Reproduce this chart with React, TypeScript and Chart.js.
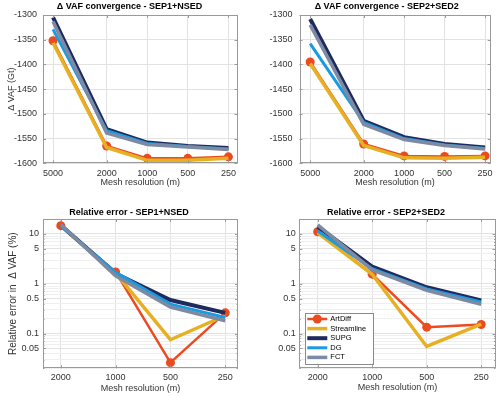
import React, { useEffect, useRef } from 'react';
import { Chart, registerables } from 'chart.js';

Chart.register(...registerables);

const FONT_FAMILY = '"Liberation Sans", Arial, Helvetica, sans-serif';

// ---- categories / ticks ----
const convResolutions = [5000, 2000, 1000, 500, 250];
const errResolutions = [2000, 1000, 500, 250];
const seriesNames = ['ArtDiff', 'Streamline', 'SUPG', 'DG', 'FCT'];
const convYTicks = [-1600, -1550, -1500, -1450, -1400, -1350, -1300];
const errYTicks = [0.05, 0.1, 0.5, 1, 5, 10];
const errDecades = [0.01, 0.1, 1, 10];
const errMinorMultipliers = [1, 2, 3, 4, 5, 6, 7, 8, 9];

// ---- ΔVAF convergence, SEP1+NSED (Gt) ----
const artDiffConv1 = [-1352, -1565, -1590, -1590, -1587];
const streamlineConv1 = [-1356, -1568, -1594, -1594, -1590];
const supgConv1 = [-1305, -1531, -1558, -1565, -1569];
const dgConv1 = [-1329, -1534, -1560, -1566, -1571];
const fctConv1 = [-1313, -1539, -1562, -1567, -1572];

// ---- ΔVAF convergence, SEP2+SED2 (Gt) ----
const artDiffConv2 = [-1395, -1561, -1585, -1586, -1585];
const streamlineConv2 = [-1398, -1564, -1589, -1590, -1588];
const supgConv2 = [-1308, -1514, -1547, -1561, -1568];
const dgConv2 = [-1358, -1517, -1550, -1563, -1570];
const fctConv2 = [-1320, -1521, -1552, -1564, -1571];

// ---- Relative error, SEP1+NSED (%) ----
const artDiffErr1 = [14.7, 1.73, 0.026, 0.26];
const streamlineErr1 = [14.5, 1.65, 0.075, 0.23];
const supgErr1 = [15, 1.6, 0.47, 0.26];
const dgErr1 = [14.5, 1.7, 0.39, 0.21];
const fctErr1 = [15.5, 1.45, 0.34, 0.18];

// ---- Relative error, SEP2+SED2 (%) ----
const artDiffErr2 = [11.1, 1.56, 0.134, 0.152];
const streamlineErr2 = [10.5, 1.55, 0.055, 0.155];
const supgErr2 = [14, 2.2, 0.85, 0.46];
const dgErr2 = [11.5, 2.0, 0.79, 0.43];
const fctErr2 = [15.2, 1.9, 0.74, 0.385];

// ---- styles ----
const COLORS = ['#EC4A1F', '#E6B022', '#1F2B5E', '#1A9AE0', '#7D8AA3'];
const WIDTHS = [2.5, 3.5, 4, 3, 3.5];
const TEXT_COLOR = '#333333';
const FRAME_COLOR = '#9a9a9a';
const GRID_MAJOR = '#e2e2e2';
const GRID_MINOR = '#efefef';

type Area = { l: number; t: number; r: number; b: number };
type Panel = {
  left: number; top: number; width: number; height: number;
  area: Area;
  title: string; titleX: number; titleY: number;
  kind: 'conv' | 'err';
  xs: number[]; xMin: number; xMax: number;
  values: number[][];
  yTitle?: string; yTitleX?: number; yTitleSize?: number;
  yTickPad: number; xTickPad: number; xTitleY: number;
  legend?: boolean;
};

const panels: Panel[] = [
  {
    left: 0, top: 0, width: 250, height: 200,
    area: { l: 43, t: 15, r: 237.5, b: 163.3 },
    title: '\u0394 VAF convergence - SEP1+NSED', titleX: 129.5, titleY: 7,
    kind: 'conv', xs: convResolutions, xMin: 214, xMax: 5934,
    values: [artDiffConv1, streamlineConv1, supgConv1, dgConv1, fctConv1],
    yTitle: '\u0394 VAF (Gt)', yTitleX: 12, yTitleSize: 9,
    yTickPad: 6, xTickPad: 5, xTitleY: 183,
  },
  {
    left: 250, top: 0, width: 250, height: 200,
    area: { l: 49.5, t: 15, r: 240.7, b: 163.3 },
    title: '\u0394 VAF convergence - SEP2+SED2', titleX: 136.7, titleY: 7,
    kind: 'conv', xs: convResolutions, xMin: 227, xMax: 6003,
    values: [artDiffConv2, streamlineConv2, supgConv2, dgConv2, fctConv2],
    yTickPad: 7, xTickPad: 5, xTitleY: 183,
  },
  {
    left: 0, top: 200, width: 250, height: 197,
    area: { l: 43, t: 19, r: 238, b: 168.3 },
    title: 'Relative error - SEP1+NSED', titleX: 129, titleY: 12.7,
    kind: 'err', xs: errResolutions, xMin: 212.8, xMax: 2504,
    values: [artDiffErr1, streamlineErr1, supgErr1, dgErr1, fctErr1],
    yTitle: 'Relative error in  \u0394 VAF (%)', yTitleX: 13, yTitleSize: 10,
    yTickPad: 4, xTickPad: 4, xTitleY: 188.3,
  },
  {
    left: 250, top: 200, width: 250, height: 197,
    area: { l: 49.3, t: 19, r: 246, b: 168.3 },
    title: 'Relative error - SEP2+SED2', titleX: 136, titleY: 12.7,
    kind: 'err', xs: errResolutions, xMin: 208.5, xMax: 2526,
    values: [artDiffErr2, streamlineErr2, supgErr2, dgErr2, fctErr2],
    yTickPad: 3.6, xTickPad: 4, xTitleY: 187.7,
    legend: true,
  },
];

const errGridValues: number[] = [];
errDecades.forEach((d) => errMinorMultipliers.forEach((m) => {
  const v = Number((m * d).toPrecision(6));
  if (v >= 0.02 && v <= 20) errGridValues.push(v);
}));
const isMajorErr = (v: number) => errYTicks.some((t) => Math.abs(t - v) / t < 1e-6);

// ---- plugins ----
const panelTitlePlugin = {
  id: 'panelTitle',
  afterDraw(chart: any, _a: any, opts: any) {
    if (!opts || !opts.text) return;
    const ctx = chart.ctx;
    ctx.save();
    ctx.font = `bold 9px ${FONT_FAMILY}`;
    ctx.fillStyle = '#000';
    ctx.textAlign = 'center';
    ctx.textBaseline = 'middle';
    ctx.fillText(opts.text, opts.x, opts.y);
    ctx.restore();
  },
};

const framePlugin = {
  id: 'matlabFrame',
  afterDraw(chart: any) {
    const { ctx, chartArea: a, scales } = chart;
    const xs = scales.x;
    const ys = scales.y;
    ctx.save();
    ctx.strokeStyle = FRAME_COLOR;
    ctx.lineWidth = 1;
    ctx.beginPath();
    xs.ticks.forEach((t: any) => {
      const px = Math.round(xs.getPixelForValue(t.value)) + 0.5;
      ctx.moveTo(px, a.bottom); ctx.lineTo(px, a.bottom - 3);
      ctx.moveTo(px, a.top); ctx.lineTo(px, a.top + 3);
    });
    ys.ticks.forEach((t: any) => {
      const len = t.label ? 3 : 1.5;
      const py = Math.round(ys.getPixelForValue(t.value)) + 0.5;
      ctx.moveTo(a.left, py); ctx.lineTo(a.left + len, py);
      ctx.moveTo(a.right, py); ctx.lineTo(a.right - len, py);
    });
    ctx.stroke();
    const l = Math.round(a.left) + 0.5;
    const t = Math.round(a.top) + 0.5;
    const r = Math.round(a.right) - 0.5;
    const b = Math.round(a.bottom) - 0.5;
    ctx.strokeRect(l, t, r - l, b - t);
    ctx.restore();
  },
};

const insideLegendPlugin = {
  id: 'insideLegend',
  afterDatasetsDraw(chart: any, _a: any, opts: any) {
    if (!opts || !opts.display) return;
    const ctx = chart.ctx;
    const { x, y, width, height, firstRow, rowHeight, pad, lineLen, gap, fontSize } = opts;
    ctx.save();
    ctx.fillStyle = '#ffffff';
    ctx.fillRect(x, y, width, height);
    ctx.strokeStyle = '#8a8a8a';
    ctx.lineWidth = 1;
    ctx.strokeRect(Math.round(x) + 0.5, Math.round(y) + 0.5, Math.round(width), Math.round(height));
    chart.data.datasets.forEach((ds: any, i: number) => {
      const cy = y + firstRow + i * rowHeight;
      ctx.strokeStyle = ds.borderColor;
      ctx.lineWidth = ds.borderWidth;
      ctx.beginPath();
      ctx.moveTo(x + pad, cy);
      ctx.lineTo(x + pad + lineLen, cy);
      ctx.stroke();
      if (ds.pointRadius > 0) {
        ctx.fillStyle = ds.backgroundColor;
        ctx.beginPath();
        ctx.arc(x + pad + lineLen / 2, cy, ds.pointRadius, 0, Math.PI * 2);
        ctx.fill();
      }
      ctx.fillStyle = '#000';
      ctx.font = `${fontSize}px ${FONT_FAMILY}`;
      ctx.textAlign = 'left';
      ctx.textBaseline = 'middle';
      ctx.fillText(ds.label, x + pad + lineLen + gap, cy);
    });
    ctx.restore();
  },
};

function buildConfig(p: Panel): any {
  const datasets = seriesNames.map((name, i) => ({
    label: name,
    data: p.xs.map((x, j) => ({ x, y: p.values[i][j] })),
    borderColor: COLORS[i],
    backgroundColor: COLORS[i],
    borderWidth: WIDTHS[i],
    pointRadius: i === 0 ? 4.5 : 0,
    pointBorderWidth: 0,
    pointHoverRadius: 0,
    tension: 0,
    fill: false,
    order: seriesNames.length - i,
  }));

  const tickFont = { family: FONT_FAMILY, size: 9 };
  const titleFont = { family: FONT_FAMILY, size: 9 };
  const lineH = 9 * 1.2;
  const ySize = p.yTitleSize || 9;

  const yScale: any = p.kind === 'conv'
    ? {
        type: 'linear',
        min: convYTicks[0],
        max: convYTicks[convYTicks.length - 1],
        afterBuildTicks: (s: any) => { s.ticks = convYTicks.map((v) => ({ value: v })); },
        ticks: {
          autoSkip: false, padding: p.yTickPad, font: tickFont, color: TEXT_COLOR,
          callback: (v: any) => String(v),
        },
        grid: { color: GRID_MAJOR, drawTicks: false, lineWidth: 1 },
      }
    : {
        type: 'logarithmic',
        min: 0.02,
        max: 20,
        afterBuildTicks: (s: any) => { s.ticks = errGridValues.map((v) => ({ value: v })); },
        ticks: {
          autoSkip: false, padding: p.yTickPad, font: tickFont, color: TEXT_COLOR,
          callback: (v: any) => (isMajorErr(Number(v)) ? String(Number(v)) : ''),
        },
        grid: {
          drawTicks: false, lineWidth: 1,
          color: (c: any) => (c.tick && isMajorErr(c.tick.value) ? GRID_MAJOR : GRID_MINOR),
        },
      };
  yScale.border = { display: false };
  yScale.afterFit = (s: any) => { s.width = p.area.l; };
  yScale.title = p.yTitle
    ? {
        display: true, text: p.yTitle, font: { family: FONT_FAMILY, size: ySize }, color: TEXT_COLOR,
        padding: { top: (p.yTitleX || 12) - (ySize * 1.2) / 2, bottom: 0 },
      }
    : { display: false };

  const xScale: any = {
    type: 'logarithmic',
    reverse: true,
    min: p.xMin,
    max: p.xMax,
    afterBuildTicks: (s: any) => { s.ticks = p.xs.map((v) => ({ value: v })); },
    ticks: {
      autoSkip: false, maxRotation: 0, minRotation: 0, padding: p.xTickPad,
      font: tickFont, color: TEXT_COLOR, callback: (v: any) => String(v),
    },
    grid: { color: GRID_MAJOR, drawTicks: false, lineWidth: 1 },
    border: { display: false },
    title: {
      display: true, text: 'Mesh resolution (m)', font: titleFont, color: TEXT_COLOR,
      padding: { top: 0, bottom: p.height - p.xTitleY - lineH / 2 },
    },
    afterFit: (s: any) => { s.height = p.height - p.area.b; },
  };

  return {
    type: 'line',
    data: { datasets },
    options: {
      responsive: false,
      animation: false,
      devicePixelRatio: 1,
      events: [],
      layout: { padding: { left: 0, top: p.area.t, right: p.width - p.area.r, bottom: 0 } },
      scales: { x: xScale, y: yScale },
      plugins: {
        legend: { display: false },
        title: { display: false },
        tooltip: { enabled: false },
        panelTitle: { text: p.title, x: p.titleX, y: p.titleY },
        insideLegend: p.legend
          ? {
              display: true, x: 55, y: 112.7, width: 68.3, height: 50.6,
              firstRow: 6.3, rowHeight: 9.6, pad: 2.3, lineLen: 20, gap: 3, fontSize: 7.5,
            }
          : { display: false },
      },
    },
    plugins: [panelTitlePlugin, framePlugin, insideLegendPlugin],
  };
}

function ChartPanel({ panel }: { panel: Panel }) {
  const ref = useRef<HTMLCanvasElement | null>(null);
  useEffect(() => {
    if (!ref.current) return;
    const chart = new Chart(ref.current, buildConfig(panel));
    return () => chart.destroy();
  }, [panel]);
  return (
    <canvas
      ref={ref}
      width={panel.width}
      height={panel.height}
      style={{ position: 'absolute', left: panel.left, top: panel.top, width: panel.width, height: panel.height }}
    />
  );
}

export default function App() {
  return (
    <div style={{ position: 'absolute', left: 0, top: 0, width: 500, height: 397, background: '#ffffff', overflow: 'hidden' }}>
      {panels.map((p, i) => (
        <ChartPanel key={i} panel={p} />
      ))}
    </div>
  );
}
